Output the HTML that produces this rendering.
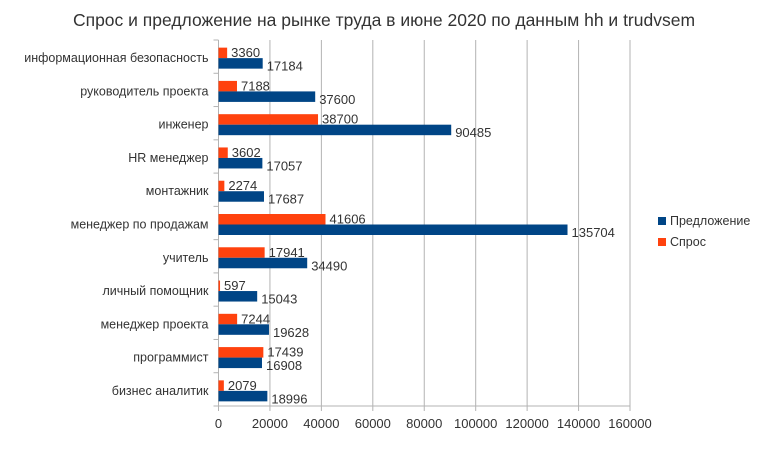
<!DOCTYPE html>
<html><head><meta charset="utf-8"><style>
body{margin:0;background:#fff;font-family:"Liberation Sans",sans-serif;}
svg text{font-family:"Liberation Sans",sans-serif;}
</style></head><body>
<svg width="769" height="444">
<text x="384" y="26" text-anchor="middle" font-size="17.5" fill="#333">Спрос и предложение на рынке труда в июне 2020 по данным hh и trudvsem</text>
<g id="grid"></g><g id="bars"></g><g id="labels"></g>
<g>
<rect x="658" y="217" width="8" height="8" fill="#004586"/>
<text x="670" y="225" font-size="12.5" fill="#333">Предложение</text>
<rect x="658" y="238" width="8" height="8" fill="#ff420e"/>
<text x="670" y="246" font-size="12.5" fill="#333">Спрос</text>
</g>
</svg>
<script>
const categories=["информационная безопасность","руководитель проекта","инженер","HR менеджер","монтажник","менеджер по продажам","учитель","личный помощник","менеджер проекта","программист","бизнес аналитик"];
const demand=[3360,7188,38700,3602,2274,41606,17941,597,7244,17439,2079];
const offer=[17184,37600,90485,17057,17687,135704,34490,15043,19628,16908,18996];
const ticks=[0,20000,40000,60000,80000,100000,120000,140000,160000];
const NS="http://www.w3.org/2000/svg";
const X0=218.5,X1=630,Y0=40,Y1=406,MAX=160000;
const band=(Y1-Y0)/categories.length;
const x=v=>X0+(X1-X0)*v/MAX;
const yb=i=>Y0+band*i;
function mk(p,t,a){const e=document.createElementNS(NS,t);for(const k in a)e.setAttribute(k,a[k]);p.appendChild(e);return e;}
const grid=document.getElementById('grid'),bars=document.getElementById('bars'),labels=document.getElementById('labels');
ticks.forEach(t=>{
 const l=mk(grid,'line',{x1:x(t),x2:x(t),y1:Y0,y2:Y1+5,stroke:'#b3b3b3','stroke-width':1});
 
 
 const tx=mk(grid,'text',{x:x(t),y:Y1+22,'text-anchor':'middle','font-size':13,fill:'#333'});
 tx.textContent=t;
 
 
});
const ax=mk(grid,'line',{x1:X0,x2:X1,y1:Y1,y2:Y1,stroke:'#b3b3b3'});


const ay=mk(grid,'line',{x1:X0,x2:X0,y1:Y0,y2:Y1,stroke:'#b3b3b3'});


for(let i=0;i<=categories.length;i++){
 const t=mk(grid,'line',{x1:X0-5,x2:X0,y1:yb(i),y2:yb(i),stroke:'#b3b3b3'});
 
 
}
categories.forEach((c,i)=>{
 const top=yb(i),mid=top+band/2+1.5,h=10.5;
 const cl=mk(labels,'text',{x:X0-10,y:mid+4,'text-anchor':'end','font-size':12.5,fill:'#333'});
 cl.textContent=c;
 
 
 const r1=mk(bars,'rect',{x:X0,y:mid-h,width:x(demand[i])-X0,height:h,fill:'#ff420e'});
 
 
 const r2=mk(bars,'rect',{x:X0,y:mid,width:x(offer[i])-X0,height:h,fill:'#004586'});
 
 
 const t1=mk(labels,'text',{x:x(demand[i])+4,y:mid-1,'font-size':13,fill:'#333'});
 t1.textContent=demand[i];
 
 
 const t2=mk(labels,'text',{x:x(offer[i])+4,y:mid+h+2,'font-size':13,fill:'#333'});
 t2.textContent=offer[i];
 
 
});
</script>
</body></html>
